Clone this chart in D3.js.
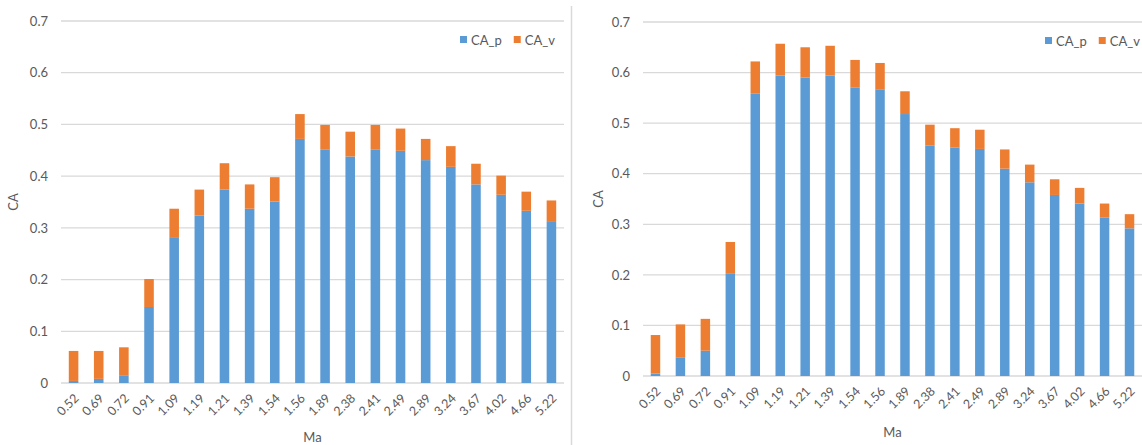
<!DOCTYPE html>
<html><head><meta charset="utf-8">
<script src="https://cdn.jsdelivr.net/npm/d3@7"></script>
<style>body{margin:0;background:#fff}svg{display:block}text{font-family:Lato,"Open Sans",sans-serif;fill:#595959}</style>
</head><body>
<svg id="c" width="1142" height="445"></svg>
<script>
const categories = ["0.52","0.69","0.72","0.91","1.09","1.19","1.21","1.39","1.54","1.56","1.89","2.38","2.41","2.49","2.89","3.24","3.67","4.02","4.66","5.22"];
const seriesNames = ["CA_p","CA_v"];
const yTicks = [0,0.1,0.2,0.3,0.4,0.5,0.6,0.7];
// Left chart
const leftCA_p = [0.004,0.008,0.015,0.147,0.282,0.324,0.374,0.337,0.351,0.472,0.451,0.438,0.451,0.449,0.431,0.418,0.384,0.364,0.333,0.313];
const leftCA_v = [0.058,0.054,0.054,0.054,0.055,0.050,0.051,0.047,0.047,0.048,0.048,0.048,0.048,0.043,0.041,0.040,0.040,0.037,0.037,0.040];
// Right chart
const rightCA_p = [0.005,0.036,0.050,0.202,0.559,0.594,0.590,0.594,0.570,0.567,0.518,0.456,0.452,0.449,0.410,0.383,0.358,0.341,0.313,0.292];
const rightCA_v = [0.076,0.066,0.063,0.063,0.063,0.063,0.060,0.059,0.055,0.052,0.045,0.041,0.038,0.038,0.038,0.035,0.031,0.031,0.028,0.028];

const colors = {CA_p:"#5b9bd5", CA_v:"#ed7d31"};
const svg = d3.select("#c");

function drawChart(cfg){
  const g = svg.append("g");
  const rows = categories.map((c,i)=>({cat:c, CA_p:cfg.p[i], CA_v:cfg.v[i]}));
  const x = d3.scaleBand().domain(categories).range([cfg.x0,cfg.x1]).paddingInner(0.62).paddingOuter(0.31);
  const y = d3.scaleLinear().domain([0,0.7]).range([cfg.y0,cfg.y1]);
  g.append("g").selectAll("line").data(yTicks).join("line")
    .attr("x1",cfg.x0).attr("x2",cfg.x1).attr("y1",d=>y(d)).attr("y2",d=>y(d))
    .attr("stroke","#d9d9d9").attr("stroke-width",1.3);
  const ya = g.append("g").attr("transform",`translate(${cfg.x0-13},0)`)
    .call(d3.axisLeft(y).tickValues(yTicks).tickSize(0).tickPadding(0).tickFormat(d=>d===0?"0":d3.format(".1f")(d)));
  ya.select(".domain").remove();
  ya.selectAll("text").attr("font-size",13).style("font-family","Lato,sans-serif").attr("fill","#595959");
  const stack = d3.stack().keys(seriesNames)(rows);
  g.append("g").selectAll("g").data(stack).join("g").attr("fill",d=>colors[d.key])
    .selectAll("rect").data(d=>d).join("rect")
    .attr("x",d=>x(d.data.cat)).attr("width",x.bandwidth())
    .attr("y",d=>y(d[1])).attr("height",d=>y(d[0])-y(d[1]));
  const xa = g.append("g").attr("transform",`translate(0,${cfg.y0})`)
    .call(d3.axisBottom(x).tickSize(0).tickPadding(0));
  xa.select(".domain").remove();
  xa.selectAll("text").attr("font-size",12.5).style("font-family","Lato,sans-serif").attr("fill","#595959")
    .attr("text-anchor","end").attr("dy",0).attr("y",0)
    .attr("transform","translate(6,16) rotate(-45)");
  g.append("text").attr("x",(cfg.x0+cfg.x1)/2).attr("y",cfg.maY).attr("text-anchor","middle").attr("font-size",13).text("Ma");
  g.append("text").attr("transform",`translate(${cfg.caX},${(cfg.y0+cfg.y1)/2}) rotate(-90)`).attr("text-anchor","middle").attr("font-size",13).text("CA");
  const lg = g.append("g").attr("transform",`translate(${cfg.legX},${cfg.legY})`);
  let off = 0;
  seriesNames.forEach(s=>{
    lg.append("rect").attr("x",off).attr("y",-9).attr("width",7).attr("height",7).attr("fill",colors[s]);
    const t = lg.append("text").attr("x",off+11).attr("y",0).attr("font-size",13).text(s);
    off += 11 + t.node().getComputedTextLength() + 12;
  });
}

drawChart({p:leftCA_p, v:leftCA_v, x0:61, x1:564, y0:383, y1:21, maY:442, caX:18, legX:460, legY:45});
drawChart({p:rightCA_p, v:rightCA_v, x0:643, x1:1142, y0:376, y1:22, maY:437, caX:603, legX:1045, legY:46});
svg.append("line").attr("x1",571.5).attr("x2",571.5).attr("y1",6).attr("y2",445).attr("stroke","#d9d9d9").attr("stroke-width",1.5);
</script>
</body></html>
